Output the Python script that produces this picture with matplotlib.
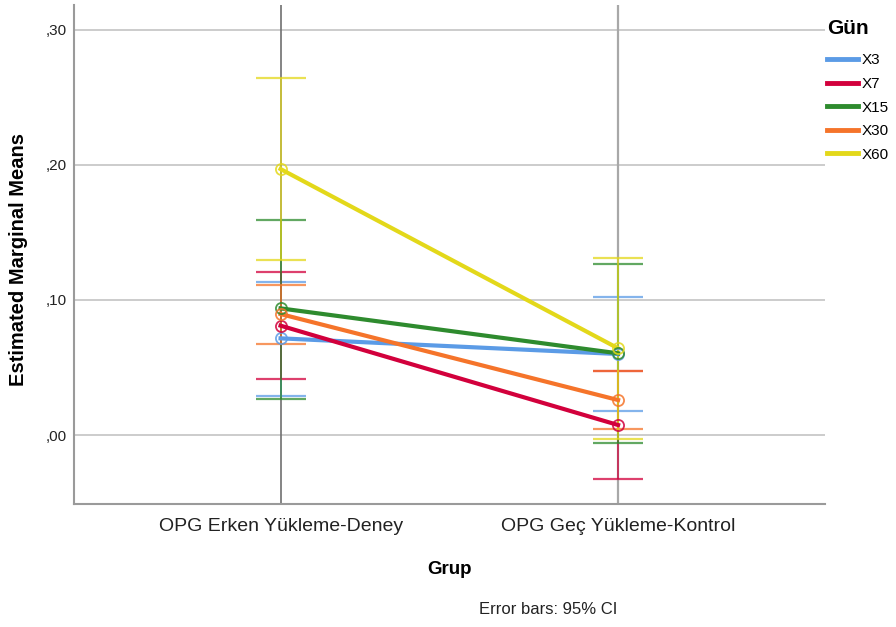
import matplotlib
matplotlib.use("Agg")
import matplotlib.pyplot as plt
from matplotlib.lines import Line2D
import numpy as np

plt.rcParams['font.family'] = ['Liberation Sans', 'DejaVu Sans']

# Groups and days
groups = ["OPG Erken Yükleme-Deney", "OPG Geç Yükleme-Kontrol"]
days = ["X3", "X7", "X15", "X30", "X60"]

# Estimated marginal means per day, for each group
mean_x3 = [0.0716, 0.0600]
mean_x7 = [0.0810, 0.0074]
mean_x15 = [0.0938, 0.0605]
mean_x30 = [0.0896, 0.0259]
mean_x60 = [0.1970, 0.0642]

# 95% CI bounds
low_x3 = [0.0289, 0.0178]
high_x3 = [0.1133, 0.1022]
low_x7 = [0.0412, -0.0326]
high_x7 = [0.1210, 0.0472]
low_x15 = [0.0267, -0.0062]
high_x15 = [0.1595, 0.1267]
low_x30 = [0.0672, 0.0042]
high_x30 = [0.1110, 0.0476]
low_x60 = [0.1296, -0.0030]
high_x60 = [0.2644, 0.1313]

means = [mean_x3, mean_x7, mean_x15, mean_x30, mean_x60]
lows = [low_x3, low_x7, low_x15, low_x30, low_x60]
highs = [high_x3, high_x7, high_x15, high_x30, high_x60]
colors = ["#5b9be6", "#d2003c", "#2e8b2e", "#f5742a", "#e3d81a"]

fig = plt.figure(figsize=(8.96, 6.27), dpi=100)
ax = fig.add_axes([74 / 896, 1 - 504 / 627, (825 - 74) / 896, (504 - 5) / 627])

x = np.arange(len(groups))

# reference lines
for yv in [0.0, 0.1, 0.2, 0.3]:
    ax.axhline(yv, color="#c8c8c8", lw=1.3, zorder=0)
ax.axvline(x[0], color="#707070", lw=1.2, zorder=1)
ax.axvline(x[1], color="#a8a8a8", lw=1.6, zorder=1)

# error bars
for m, lo, hi, c in zip(means, lows, highs, colors):
    m = np.array(m)
    yerr = np.vstack([m - np.array(lo), np.array(hi) - m])
    ax.errorbar(x, m, yerr=yerr, fmt="none", ecolor=c, elinewidth=1.3,
                capsize=18, capthick=1.6, alpha=0.75, zorder=2)

# mean profiles
for m, c in zip(means, colors):
    ax.plot(x, m, color=c, lw=3.0, zorder=3)
    ax.plot(x, m, linestyle="none", marker="o", markersize=8,
            markerfacecolor="none", markeredgecolor=c, markeredgewidth=1.3,
            alpha=0.85, zorder=4)

ax.set_xlim(-0.612, 1.613)
ax.set_ylim(-0.0511, 0.3185)

ax.set_yticks([0.0, 0.1, 0.2, 0.3])
ax.set_yticklabels([",00", ",10", ",20", ",30"], fontsize=11, color="#222222")
ax.set_xticks(x)
ax.set_xticklabels(groups, fontsize=14, color="#222222")
ax.tick_params(axis="y", length=0, pad=5)
ax.tick_params(axis="x", length=0, pad=10)

for side in ["top", "right"]:
    ax.spines[side].set_visible(False)
for side in ["left", "bottom"]:
    ax.spines[side].set_color("#9a9a9a")
    ax.spines[side].set_linewidth(1.5)

ax.set_xlabel("Grup", fontsize=13.5, fontweight="bold")
ax.xaxis.set_label_coords((449 - 74) / 751, (504 - 570) / 499)
ax.xaxis.label.set_va("center")
ax.set_ylabel("Estimated Marginal Means", fontsize=14.5, fontweight="bold")
ax.yaxis.set_label_coords((19 - 74) / 751, (504 - 260) / 499)
ax.yaxis.label.set_va("center")

fig.text(548 / 896, 1 - 610 / 627, "Error bars: 95% CI", fontsize=12,
         ha="center", va="center", color="#222222")

handles = [Line2D([0], [0], color=c, lw=3.5) for c in colors]
leg = fig.legend(handles, days, loc="upper left",
                 bbox_to_anchor=(827 / 896, 1 - 19 / 627),
                 title="Gün", frameon=False, fontsize=11,
                 title_fontproperties={"weight": "bold", "size": 15},
                 handlelength=2.0, handletextpad=0.25, labelspacing=0.63,
                 borderaxespad=0, borderpad=0)
leg._legend_box.align = "left"
leg._legend_box.sep = 11

fig.savefig("out.png", dpi=100)
